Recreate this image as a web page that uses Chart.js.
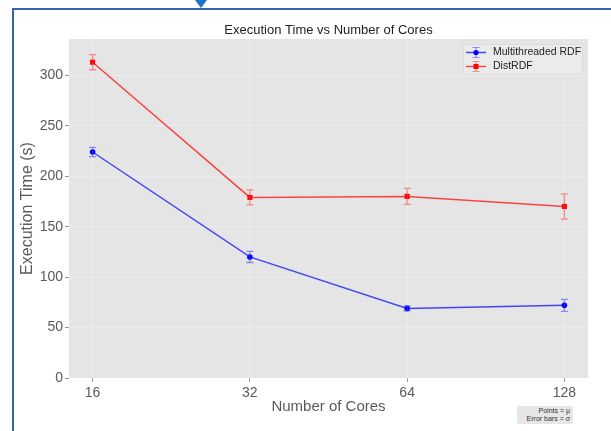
<!DOCTYPE html>
<html>
<head>
<meta charset="utf-8">
<script src="https://cdn.jsdelivr.net/npm/chart.js@4.4.1/dist/chart.umd.min.js"></script>
<style>
  body { margin: 0; background: #fff; }
  #wrap { position: relative; width: 611px; height: 431px; overflow: hidden; }
  #wrap canvas { position: absolute; left: 0; top: 0; }
  .frame-top { position: absolute; left: 12px; top: 8px; width: 599px; height: 2px; background: #3465aa; }
  .frame-left { position: absolute; left: 12px; top: 8px; width: 2px; height: 423px; background: #3465aa; }
  .marker { position: absolute; left: 195px; top: 0; width: 0; height: 0;
            border-left: 6px solid transparent; border-right: 6px solid transparent; border-top: 8px solid #1f72c4; }
  .note { position: absolute; left: 517px; top: 406px; width: 52px; padding: 1px 3px 1px 1px;
          background: #e6e6e6; border-radius: 2px; text-align: right;
          font: 7px "Liberation Sans", Arial, sans-serif; line-height: 8px; color: #333; }
</style>
</head>
<body>
<div id="wrap">
  <canvas id="timeChart" width="611" height="431"></canvas>
  <div class="frame-top"></div>
  <div class="frame-left"></div>
  <div class="marker"></div>
  <div class="note">Points = μ<br>Error bars = σ</div>
</div>
<script>
// Dane
const cores = [16, 32, 64, 128];
const multiMean = [224, 120, 69, 72];
const multiStd = [4.5, 5.5, 2.5, 6];
const distMean = [313, 179, 180, 170];
const distStd = [7.5, 7.5, 8, 12.5];
const yTicks = [0, 50, 100, 150, 200, 250, 300];

const FONT = '"Liberation Sans", Arial, sans-serif';

// Szare tło obszaru wykresu
const plotBackground = {
  id: 'plotBackground',
  beforeDraw(chart) {
    const { ctx, chartArea: a } = chart;
    ctx.save();
    ctx.fillStyle = '#e5e5e5';
    ctx.fillRect(a.left, a.top, a.right - a.left, a.bottom - a.top);
    ctx.restore();
  }
};

// Słupki błędów (odchylenie standardowe)
const errorBars = {
  id: 'errorBars',
  afterDatasetsDraw(chart) {
    const { ctx } = chart;
    const y = chart.scales.y;
    chart.data.datasets.forEach((ds, i) => {
      const meta = chart.getDatasetMeta(i);
      ctx.save();
      ctx.strokeStyle = ds.errorColor;
      ctx.lineWidth = 1.3;
      meta.data.forEach((pt, j) => {
        const v = ds.data[j].y;
        const top = y.getPixelForValue(v + ds.errors[j]);
        const bot = y.getPixelForValue(v - ds.errors[j]);
        ctx.beginPath();
        ctx.moveTo(pt.x, top); ctx.lineTo(pt.x, bot);
        ctx.moveTo(pt.x - 3.5, top); ctx.lineTo(pt.x + 3.5, top);
        ctx.moveTo(pt.x - 3.5, bot); ctx.lineTo(pt.x + 3.5, bot);
        ctx.stroke();
      });
      ctx.restore();
    });
  }
};

// Legenda wewnątrz obszaru wykresu (prawy górny róg)
const innerLegend = {
  id: 'innerLegend',
  afterDraw(chart) {
    const { ctx, chartArea: a } = chart;
    const w = 120, h = 31;
    const x0 = a.right - 5 - w, y0 = a.top + 5;
    ctx.save();
    ctx.fillStyle = 'rgba(236,236,236,0.85)';
    ctx.strokeStyle = '#dcdcdc';
    ctx.lineWidth = 1;
    ctx.fillRect(x0, y0, w, h);
    ctx.strokeRect(x0 + 0.5, y0 + 0.5, w - 1, h - 1);
    chart.data.datasets.forEach((ds, i) => {
      const cy = y0 + 8.5 + i * 14;
      const cx = x0 + 13;
      ctx.strokeStyle = ds.borderColor;
      ctx.lineWidth = 1.5;
      ctx.beginPath();
      ctx.moveTo(x0 + 3, cy); ctx.lineTo(x0 + 23, cy);
      ctx.stroke();
      ctx.strokeStyle = ds.errorColor;
      ctx.lineWidth = 1.2;
      ctx.beginPath();
      ctx.moveTo(cx, cy - 5); ctx.lineTo(cx, cy + 5);
      ctx.moveTo(cx - 3.5, cy - 5); ctx.lineTo(cx + 3.5, cy - 5);
      ctx.moveTo(cx - 3.5, cy + 5); ctx.lineTo(cx + 3.5, cy + 5);
      ctx.stroke();
      ctx.fillStyle = ds.pointBackgroundColor;
      if (ds.pointStyle === 'rect') {
        ctx.fillRect(cx - 2.5, cy - 2.5, 5, 5);
      } else {
        ctx.beginPath();
        ctx.arc(cx, cy, 2.6, 0, Math.PI * 2);
        ctx.fill();
      }
      ctx.fillStyle = '#222';
      ctx.font = '10.5px ' + FONT;
      ctx.textBaseline = 'middle';
      ctx.fillText(ds.label, x0 + 30, cy);
    });
    ctx.restore();
  }
};

function toPoints(means) {
  return cores.map((c, i) => ({ x: Math.log2(c), y: means[i] }));
}

function initTimeChart() {
  const ctx = document.getElementById('timeChart');
  const gridOpts = { color: 'rgba(255,255,255,0.35)', tickColor: '#777', tickLength: 4, lineWidth: 0.8 };

  new Chart(ctx, {
    type: 'line',
    data: {
      datasets: [{
        label: 'Multithreaded RDF',
        data: toPoints(multiMean),
        errors: multiStd,
        borderColor: 'rgba(0,0,255,0.7)',
        errorColor: 'rgba(60,60,255,0.55)',
        pointBackgroundColor: '#0000ff',
        pointBorderWidth: 0,
        pointStyle: 'circle',
        pointRadius: 2.8,
        borderWidth: 1.5
      }, {
        label: 'DistRDF',
        data: toPoints(distMean),
        errors: distStd,
        borderColor: 'rgba(255,0,0,0.7)',
        errorColor: 'rgba(255,60,60,0.55)',
        pointBackgroundColor: '#ff0000',
        pointBorderWidth: 0,
        pointStyle: 'rect',
        pointRadius: 3.6,
        borderWidth: 1.5
      }]
    },
    options: {
      responsive: false,
      animation: false,
      layout: { padding: { left: 0, right: 23, top: 0, bottom: 0 } },
      plugins: {
        legend: { display: false },
        tooltip: { enabled: false },
        title: {
          display: true,
          text: 'Execution Time vs Number of Cores',
          fullSize: false,
          color: '#222',
          font: { family: FONT, size: 13, weight: 'normal' },
          padding: { top: 23, bottom: 0.4 }
        }
      },
      scales: {
        x: {
          type: 'linear',
          min: Math.log2(cores[0]) - 0.15,
          max: Math.log2(cores[cores.length - 1]) + 0.15,
          afterBuildTicks: (scale) => {
            scale.ticks = cores.map(c => ({ value: Math.log2(c) }));
          },
          afterFit: (scale) => { scale.height = 53; },
          grid: gridOpts,
          border: { display: false },
          ticks: {
            color: '#5a5a5a',
            padding: 3,
            maxRotation: 0,
            font: { family: FONT, size: 14 },
            callback: (v) => String(Math.round(Math.pow(2, v)))
          },
          title: {
            display: true,
            text: 'Number of Cores',
            color: '#5a5a5a',
            font: { family: FONT, size: 15 },
            padding: { top: 0, bottom: 15 }
          }
        },
        y: {
          min: 0,
          max: 336,
          afterBuildTicks: (scale) => {
            scale.ticks = yTicks.map(v => ({ value: v }));
          },
          afterFit: (scale) => { scale.width = 69; },
          grid: gridOpts,
          border: { display: false },
          ticks: {
            color: '#5a5a5a',
            padding: 2,
            font: { family: FONT, size: 14 }
          },
          title: {
            display: true,
            text: 'Execution Time (s)',
            color: '#5a5a5a',
            font: { family: FONT, size: 16 },
            padding: { top: 18, bottom: 0 }
          }
        }
      }
    },
    plugins: [plotBackground, errorBars, innerLegend]
  });
}

document.addEventListener('DOMContentLoaded', initTimeChart);
</script>
</body>
</html>
